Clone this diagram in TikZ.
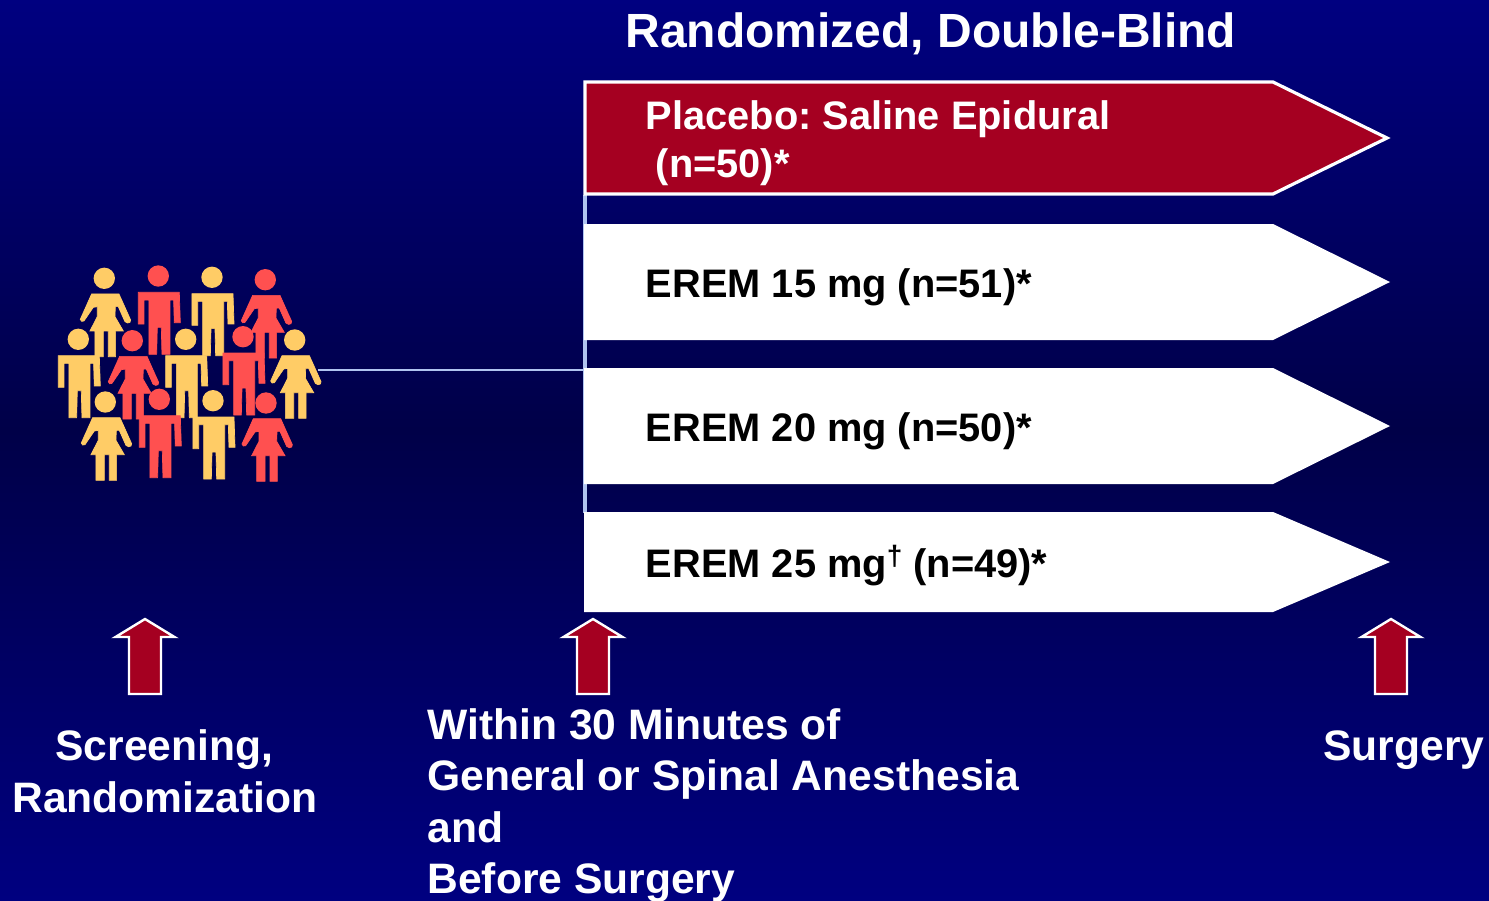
\documentclass[tikz,border=0pt]{standalone}
\usepackage{fontspec}
\setmainfont{Liberation Sans}
\frenchspacing
\definecolor{navytop}{RGB}{0,0,128}
\definecolor{navymid}{RGB}{0,0,72}
\definecolor{crimson}{RGB}{165,0,33}
\definecolor{trunkblue}{RGB}{176,196,240}
\definecolor{pyellow}{RGB}{255,204,102}
\definecolor{pred}{RGB}{255,80,80}
\newcommand{\manfig}[3]{%
\begin{scope}[shift={(#1,#2)},x=0.1667pt,y=-0.1667pt]
\fill[#3] (0,0) circle[radius=32];
\filldraw[#3,line width=0.35pt] (-60,49)--(63,49)--(66,140)--(48,140)--(46,72)--(35,72)--(35,235)--(11,235)--(9,154)--(-3,154)--(-5,235)--(-28,235)--(-28,72)--(-43,72)--(-43,144)--(-60,144)--cycle;
\end{scope}}
\newcommand{\womanfig}[3]{%
\begin{scope}[shift={(#1,#2)},x=0.1667pt,y=-0.1667pt]
\fill[#3] (0,0) circle[radius=32];
\filldraw[#3,line width=0.35pt] (-38,47)--(44,47)--(79,125)--(77,132)--(70,134)--(62,130)--(42,85)--(33,85)--(32,115)--(57,158)--(34,158)--(34,235)--(12,235)--(12,158)--(-3,158)--(-3,235)--(-28,235)--(-28,158)--(-43,158)--(-21,115)--(-21,85)--(-33,87)--(-61,128)--(-68,129)--(-72,123)--cycle;
\end{scope}}
\tikzset{
  armshape/.style={fill=white,draw=none},
  redarm/.style={fill=crimson,draw=white,line width=1.6pt,line join=miter},
  uparrow/.style={fill=crimson,draw=white,line width=1.2pt,line join=miter},
  trunk/.style={draw=trunkblue,line width=0.9pt},
  title/.style={anchor=base west,inner sep=0pt,text=white,font=\fontsize{24}{24}\bfseries\selectfont},
  armlabel/.style={anchor=base west,inner sep=0pt,font=\fontsize{19.9}{20}\bfseries\selectfont},
  caption/.style={anchor=base west,inner sep=0pt,text=white,font=\fontsize{21.3}{22}\bfseries\selectfont}
}
\begin{document}
\begin{tikzpicture}[x=0.5pt,y=-0.5pt]
\useasboundingbox (0,0) rectangle (1489,900);
\shade[top color=navytop,bottom color=navymid] (0,0) rectangle (1489,430);
\shade[top color=navymid,bottom color=navytop] (0,430) rectangle (1489,900);
% connectors
\coordinate (crowd) at (318,370);
\coordinate (trunktop) at (585,195);
\coordinate (trunkbottom) at (585,513);
\coordinate (trunkjoin) at (585,370);
\draw[trunk] (crowd) -- (trunkjoin);
\draw[trunk,line width=1.6pt] (trunktop) -- (trunkbottom);
% arms
\draw[redarm] (585,82)--(1273,82)--(1387,138)--(1273,194)--(585,194)--cycle;
\fill[armshape] (584,224)--(1273,224)--(1390,282)--(1273,340)--(584,340)--cycle;
\fill[armshape] (584,368)--(1273,368)--(1390,426)--(1273,484)--(584,484)--cycle;
\fill[armshape] (584,512)--(1273,512)--(1390,562)--(1273,612)--(584,612)--cycle;
\node[title] (ttl) at (625,47) {Randomized, Double-Blind};
\node[armlabel,text=white] (pl1) at (645.5,129) {Placebo: Saline Epidural};
\node[armlabel,text=white] (pl2) at (655.5,177) {(n=50)*};
\node[armlabel,text=black] (e15) at (645.5,297) {EREM 15 mg (n=51)*};
\node[armlabel,text=black] (e20) at (645.5,441) {EREM 20 mg (n=50)*};
\node[armlabel,text=black] (e25) at (645.5,577) {EREM 25 mg\raisebox{0.55ex}{\fontsize{14}{15}\selectfont †} (n=49)*};
% people
\womanfig{104.3}{278.3}{pyellow}
\manfig{158.3}{276}{pred}
\manfig{212}{277.3}{pyellow}
\womanfig{265.3}{279.7}{pred}
\manfig{78.3}{339.3}{pyellow}
\womanfig{132.3}{340.7}{pred}
\manfig{185.7}{339.3}{pyellow}
\manfig{243}{336.7}{pred}
\womanfig{294.7}{340}{pyellow}
\womanfig{105.3}{402}{pyellow}
\manfig{159.3}{399.3}{pred}
\manfig{213}{400.7}{pyellow}
\womanfig{266}{403}{pred}
% arrows
\draw[uparrow] (145,619)--(174.5,637)--(161,637)--(161,694)--(129,694)--(129,637)--(115.5,637)--cycle;
\draw[uparrow] (593,619)--(622.5,637)--(609,637)--(609,694)--(577,694)--(577,637)--(563.5,637)--cycle;
\draw[uparrow] (1391,619)--(1420.5,637)--(1407,637)--(1407,694)--(1375,694)--(1375,637)--(1361.5,637)--cycle;
% captions
\node[caption] (c1) at (55,760) {Screening,};
\node[caption] (c2) at (12,812) {Randomization};
\node[caption] (c3) at (427,739) {Within 30 Minutes of};
\node[caption] (c4) at (427,790) {General or Spinal Anesthesia};
\node[caption] (c5) at (427,842) {and};
\node[caption] (c6) at (427,893) {Before Surgery};
\node[caption] (c7) at (1323,760) {Surgery};
\end{tikzpicture}
\end{document}
